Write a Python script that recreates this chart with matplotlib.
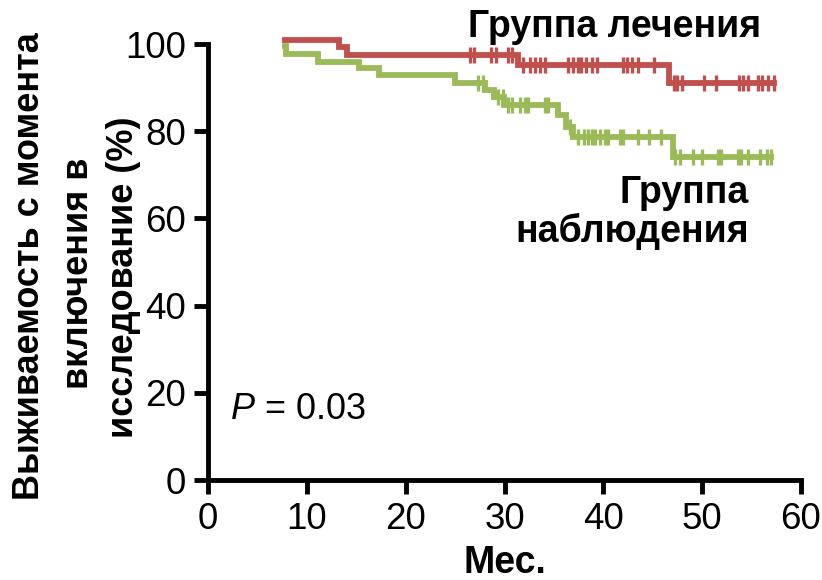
import numpy as np
import matplotlib
matplotlib.use("Agg")
import matplotlib.pyplot as plt

plt.rcParams['font.family'] = ['Liberation Sans', 'DejaVu Sans']
plt.rcParams['mathtext.fontset'] = 'custom'
plt.rcParams['mathtext.rm'] = 'Liberation Sans'
plt.rcParams['mathtext.it'] = 'Liberation Sans:italic'

# Treatment group (red) step curve
treat_times = [7.8, 13.3, 14.1, 31.4, 46.6, 57.3]
treat_surv = [100.9, 99.3, 97.5, 95.2, 91.1, 91.1]
treat_censor = [26.5, 26.9, 28.6, 29.1, 30.4, 30.8, 31.9, 32.6, 33.1, 33.6, 34.1,
                36.4, 36.9, 37.4, 37.7, 38.2, 38.9, 39.4, 42.0, 42.4, 42.9, 43.5,
                45.1, 47.1, 47.5, 48.0, 50.2, 51.4, 53.7, 54.1, 54.6, 55.6, 56.1,
                56.7, 57.3]

# Observation group (green) step curve
obs_times = [7.8, 7.85, 11.1, 15.3, 17.3, 25.0, 28.0, 28.9, 29.9, 35.4, 36.2,
             36.9, 47.0, 57.0]
obs_surv = [99.6, 97.7, 95.9, 94.5, 92.8, 91.1, 89.4, 87.8, 86.0, 83.7, 81.0,
            78.7, 74.1, 74.1]
obs_censor = [27.3, 27.8, 29.3, 29.8, 30.4, 30.8, 31.6, 32.1, 32.4, 34.1, 34.4,
              36.6, 37.4, 38.0, 38.4, 38.9, 39.2, 39.7, 40.2, 40.5, 41.7, 42.0,
              43.5, 44.6, 45.8, 47.3, 47.8, 49.1, 50.0, 51.6, 51.9, 53.6, 53.9,
              54.6, 55.9, 56.6, 57.0]

x_ticks = [0, 10, 20, 30, 40, 50, 60]
y_ticks = [0, 20, 40, 60, 80, 100]
ylabel_lines = ['Выживаемость с момента', 'включения в', 'исследование (%)']

RED = '#C0504D'
GREEN = '#9BBB59'

fig = plt.figure(figsize=(8.22, 5.80), dpi=100)
ax = fig.add_axes([208/822, 1-480/580, (801-208)/822, (480-44)/580])


def step_at(times, surv, t):
    i = np.searchsorted(times, t, side='right') - 1
    i = np.clip(i, 0, len(surv) - 1)
    return np.asarray(surv)[i]


for times, surv, cens, col in [(obs_times, obs_surv, obs_censor, GREEN),
                               (treat_times, treat_surv, treat_censor, RED)]:
    ax.step(times, surv, where='post', color=col, lw=4.2, clip_on=False,
            solid_joinstyle='miter', zorder=3)
    ax.plot(cens, step_at(times, surv, cens), linestyle='none', marker='|',
            ms=11, mew=2.4, color=col, clip_on=False, zorder=4)

ax.set_xlim(0, 60)
ax.set_ylim(0, 100)
ax.set_xticks(x_ticks)
ax.set_yticks(y_ticks)
for s in ['top', 'right']:
    ax.spines[s].set_visible(False)
for s in ['left', 'bottom']:
    ax.spines[s].set_linewidth(3.5)
ax.tick_params(direction='out', length=10, width=3.5, labelsize=26.5, pad=6)

fig.text(505/822, 1-563/580, 'Мес.', fontsize=27, fontweight='bold',
         ha='center', va='center')
for txt, xc, yc in zip(ylabel_lines, [30, 78, 123], [266, 273, 277]):
    fig.text(xc/822, 1-yc/580, txt, rotation=90, ha='center', va='center',
             fontsize=26, fontweight='bold')

ax.text(26.3, 104.0, 'Группа лечения', fontsize=27, fontweight='bold',
        ha='left', va='center')
ax.text(54.7, 61.3, 'Группа\nнаблюдения', fontsize=27, fontweight='bold',
        ha='right', va='center', multialignment='right', linespacing=1.05)
ax.text(2.2, 16.2, r'$P$ = 0.03', fontsize=26, ha='left', va='center')

fig.savefig('out.png', dpi=100)
